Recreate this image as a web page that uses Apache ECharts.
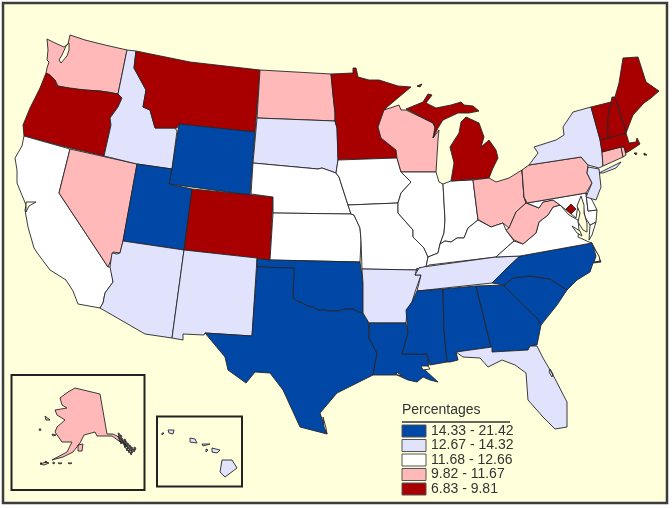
<!DOCTYPE html>
<html lang="en">
<head>
<meta charset="UTF-8">
<title>Percentages by state</title>
<script src="https://cdnjs.cloudflare.com/ajax/libs/echarts/6.0.0/echarts.min.js"></script>
<style>html,body{margin:0;background:#fff}#main{width:672px;height:508px}</style>
</head>
<body>
<div id="main"></div>
<script>
// legend bins, listed from the lowest class up
const binLabels = ['6.83 - 9.81', '9.82 - 11.67', '11.68 - 12.66', '12.67 - 14.32', '14.33 - 21.42'];
const binMins = [6.83, 9.82, 11.68, 12.67, 14.33];
const binMaxs = [9.81, 11.67, 12.66, 14.32, 21.42];
const binColors = ['#a80000', '#ffb9b9', '#ffffff', '#e1e3fc', '#0047a6'];

// state values, estimated from the class each state falls in
const darkRedStates = ['Oregon', 'Montana', 'Colorado', 'Minnesota', 'Michigan', 'Maine', 'Vermont', 'New Hampshire', 'Massachusetts', 'District of Columbia'];
const darkRedValues = [9.5, 9.3, 9.6, 9.2, 9.7, 9.0, 8.6, 9.1, 9.4, 6.83];
const pinkStates = ['Washington', 'Nevada', 'North Dakota', 'Wisconsin', 'Ohio', 'West Virginia', 'Pennsylvania', 'Connecticut', 'Rhode Island', 'Alaska'];
const pinkValues = [11.2, 11.5, 10.6, 10.9, 11.4, 11.6, 11.1, 10.4, 10.8, 9.9];
const whiteStates = ['California', 'Nebraska', 'Kansas', 'Iowa', 'Missouri', 'Illinois', 'Indiana', 'Kentucky', 'Virginia', 'Maryland', 'Delaware'];
const whiteValues = [12.1, 12.0, 12.3, 11.8, 12.4, 12.2, 12.5, 12.6, 11.9, 11.7, 12.2];
const lilacStates = ['Idaho', 'South Dakota', 'Arizona', 'New Mexico', 'Arkansas', 'Tennessee', 'Florida', 'New York', 'New Jersey', 'Hawaii'];
const lilacValues = [13.1, 12.9, 13.6, 14.1, 13.8, 14.2, 13.4, 13.0, 12.8, 13.3];
const blueStates = ['Wyoming', 'Utah', 'Texas', 'Oklahoma', 'Louisiana', 'Mississippi', 'Alabama', 'Georgia', 'South Carolina', 'North Carolina'];
const blueValues = [15.2, 17.8, 16.4, 15.6, 18.3, 21.42, 17.1, 15.9, 16.7, 14.8];

// outlines: rings of "x,y" in the picture's pixels
const stateShapes = {
  'Washington': ['47,39 55,43 64,47 68,44 70,35 85,40 105,45 127,50 118,94 108,92 100,91 85,90 72,89 58,86 55,80 50,75 46,73 47,68 49,62 47,60 48,50'],
  'Oregon': ['46,73 50,75 55,80 57,86 70,88 85,90 100,91 118,94 122,98 118,107 110,118 111,125 104,156 62,146 24,136 23,125 30,108 40,88'],
  'California': ['24,136 70,149 59,193 108,267 111,267 113,282 105,293 103,303 100,308 78,304 73,291 66,280 50,270 38,254 34,248 28,227 25,210 26,205 17,183 17,170 15,158 22,146'],
  'Nevada': ['70,149 137,164 123,241 120,253 113,252 111,260 108,267 59,193'],
  'Idaho': ['127,50 136,51 134,68 146,90 143,107 150,110 155,128 165,128 175,128 177,131 172,169 137,164 104,156 111,125 110,118 118,107 122,98 118,94'],
  'Montana': ['136,51 190,62 260,70 255,132 179,124 177,128 165,128 155,128 150,110 143,107 146,90 134,68'],
  'Wyoming': ['179,124 255,132 250,195 169,184 172,169'],
  'Utah': ['137,164 172,169 169,184 192,189 184,250 123,241'],
  'Colorado': ['192,189 273,197 270,260 184,250'],
  'Arizona': ['123,241 184,250 172,338 145,334 100,308 103,303 105,293 113,282 110,267 112,253 117,254 120,253'],
  'New Mexico': ['184,250 257,258 252,336 205,333 204,335 183,334 183,340 172,338'],
  'North Dakota': ['260,70 331,74 333,95 335,113 335,121 257,118'],
  'South Dakota': ['257,118 335,121 337,128 338,160 336,173 322,168 318,169 253,163'],
  'Nebraska': ['253,163 318,169 322,168 336,173 339,177 348,205 351,214 273,213 273,197 251,194'],
  'Kansas': ['273,213 351,214 354,215 360,228 361,240 360,262 270,260'],
  'Oklahoma': ['257,259 270,260 360,262 363,283 363,313 358,312 353,309 345,309 338,311 330,311 325,310 318,310 313,307 307,306 302,303 297,301 293,298 294,268 257,267'],
  'Texas': ['257,267 294,268 293,298 297,301 302,303 307,306 313,307 318,310 325,310 330,311 338,311 345,309 353,309 358,312 363,313 368,315 369,338 377,353 373,375 357,383 337,393 320,413 327,434 300,427 283,390 270,373 255,372 246,383 228,370 225,357 205,333 252,336'],
  'Minnesota': ['331,74 353,73 353,68 356,68 358,77 369,80 379,80 398,86 411,87 399,97 386,108 384,112 378,127 381,138 396,150 397,158 338,160 337,128 335,121 335,113 333,95'],
  'Iowa': ['338,160 397,158 401,172 411,182 401,193 398,203 348,205 339,177 336,173'],
  'Missouri': ['348,205 398,203 398,213 413,230 413,237 424,248 428,257 426,267 419,268 419,270 362,269 361,240 360,228 354,215 351,214'],
  'Arkansas': ['362,269 419,270 417,268 415,275 421,275 415,292 412,302 407,310 406,323 369,323 363,313 363,283'],
  'Louisiana': ['369,323 406,323 408,333 402,354 427,354 429,365 425,370 438,382 430,380 423,377 417,382 408,380 397,375 380,375 373,375 377,353 369,338'],
  'Wisconsin': ['384,110 399,105 401,110 406,110 433,123 436,130 433,138 439,130 438,140 436,172 401,172 397,158 396,150 381,138 378,127'],
  'Illinois': ['401,172 436,172 439,182 443,184 445,220 444,233 440,244 438,253 428,257 424,248 413,237 413,230 398,213 398,203 401,193 411,182'],
  'Indiana': ['443,184 451,181 473,180 478,220 473,224 468,228 466,233 464,238 457,238 451,242 445,241 440,244 444,233 445,220'],
  'Michigan': ['406,109 423,102 428,94 432,95 426,103 436,108 451,105 461,102 464,105 473,106 479,111 469,113 458,113 443,120 438,128 433,138 435,127 433,123', '466,117 479,123 484,137 481,147 489,140 496,150 498,158 493,168 489,178 451,181 454,163 450,147 459,133 461,122', '417,86 422,84 420,87'],
  'Ohio': ['473,180 489,178 496,182 509,178 522,170 524,197 526,203 516,212 509,228 503,223 491,227 479,220 478,220'],
  'Kentucky': ['428,257 438,253 440,244 445,241 451,242 457,238 464,238 466,233 468,228 473,224 478,220 479,220 491,227 503,223 506,230 514,241 506,248 496,257 429,265 426,267'],
  'Tennessee': ['423,267 496,257 520,256 507,268 492,283 417,291 421,275 415,275 419,268'],
  'Mississippi': ['417,291 443,289 444,330 447,362 430,365 427,354 402,354 408,333 406,310 412,302'],
  'Alabama': ['443,289 476,286 490,343 492,347 456,352 458,360 450,362 447,362 444,330'],
  'Georgia': ['476,286 504,285 508,290 537,318 541,325 537,345 530,346 528,350 492,352 490,343'],
  'Florida': ['456,352 492,347 492,352 528,350 530,346 537,346 543,358 553,375 567,402 567,427 555,429 543,417 528,400 526,373 515,365 502,360 488,367 480,358 463,357', '550,369 553,374 552,377 549,372'],
  'South Carolina': ['504,285 513,278 530,276 550,279 567,290 557,305 541,325 537,318 508,290'],
  'North Carolina': ['520,256 592,243 597,253 601,262 593,263 590,272 577,280 567,290 550,279 530,276 513,278 504,285 492,283 507,268'],
  'Virginia': ['496,257 506,248 514,241 523,244 536,233 539,222 548,215 553,207 560,205 569,215 578,220 579,230 578,237 589,242 592,243 520,256', '590,225 596,222 592,235 589,240'],
  'West Virginia': ['522,170 524,197 526,203 539,208 543,202 553,200 560,205 553,207 548,215 539,222 536,233 523,244 514,240 506,230 509,228 516,212 526,203'],
  'Maryland': ['527,203 586,193 588,211 597,210 596,222 590,225 585,217 583,205 578,205 576,218 571,214 560,205 553,200 543,202 539,208'],
  'Delaware': ['586,193 592,200 597,210 588,211'],
  'Pennsylvania': ['522,170 529,165 581,157 588,165 587,173 592,183 586,193 527,203 526,203 524,197'],
  'New York': ['529,165 538,153 534,147 556,140 564,135 563,127 573,112 591,107 600,139 602,151 603,166 599,168 588,165 581,157', '599,173 621,162 616,168 603,173'],
  'New Jersey': ['588,167 599,169 601,187 596,200 586,197 592,183 587,173'],
  'Connecticut': ['602,152 621,147 623,157 603,166'],
  'Rhode Island': ['621,147 624,147 626,155 623,157'],
  'Massachusetts': ['600,140 626,133 629,143 636,142 637,138 640,144 631,150 626,153 624,147 621,147 602,152', '634,153 637,153 636,155', '644,153 647,155 644,155'],
  'Vermont': ['591,107 611,102 608,118 608,138 600,140'],
  'New Hampshire': ['611,102 612,97 615,97 625,128 626,133 608,138 608,118'],
  'Maine': ['619,83 623,58 638,57 646,82 659,91 651,98 644,103 633,115 626,133 625,128 615,97'],
  'District of Columbia': ['571,204 576,209 571,214 566,209'],
  'Alaska': ['75,388 100,394 107,434 113,434 119,437 127,446 119,441 112,436 107,436 97,436 95,432 84,435 80,443 73,452 63,457 52,460 67,452 72,442 62,442 55,432 57,427 65,420 57,415 55,410 67,408 62,405 60,398 68,392',
    '118,433 120,434 119,436', '120,435 122,436 121,438', '118,436 120,437 119,439', '121,438 123,439 122,441', '119,439 121,440 120,442', '122,440 124,441 123,443', '120,441 122,442 121,444', '124,439 126,440 125,442', '123,442 125,443 124,445', '125,441 127,442 126,444', '125,444 127,445 126,447', '127,443 129,444 128,446', '124,445 126,446 125,448', '127,446 129,447 128,449', '129,445 131,446 130,448', '126,448 128,449 127,451', '129,448 131,449 130,451', '131,447 133,448 132,450', '128,450 130,451 129,453', '131,450 133,451 132,453', '133,449 135,450 134,452', '130,452 132,453 131,455', '134,447 136,448 135,450',
    '45,461 47,462 46,463', '53,462 55,463 53,464', '58,463 62,463 60,464', '68,463 72,463 70,464', '40,463 42,463 41,464',
    '45,416 50,420 46,420', '39,429 41,429 40,431', '52,434 56,435 53,436', '78,445 83,444 82,451 78,451', '40,464 46,462 49,463 44,465'],
  'Hawaii': ['222,460 232,460 237,468 225,477 220,472', '212,448 220,450 217,453 212,452', '202,444 210,444 209,445 203,446', '206,449 208,450 206,452', '190,438 195,439 197,443 190,442', '168,430 174,430 173,434 169,433', '162,433 164,433 162,435']
};

// water that cuts into the land, left unfilled
const waterShapes = {
  'Chesapeake Bay': ['581,196 584,205 584,213 587,223 587,232 583,230 578,222 580,213 577,206'],
  'James River': ['572,226 580,231 582,236 577,233'],
  'Pamlico Sound': ['593,247 599,256 600,261 594,262 596,256'],
  'San Francisco Bay': ['26,202 36,202 29,206 26,212'],
  'Puget Sound': ['66,46 69,43 69,50 67,56 61,63 59,60 62,55'],
  'Pontchartrain': ['421,366 428,366 430,369 423,370'],
  'Vermilion Bay': ['396,372 402,375 397,375'],
  'Laguna Madre': ['323,417 326,428 327,434 324,427']
};

function toFeature(name, rings) {
  return {
    type: 'Feature',
    properties: { name: name },
    geometry: {
      type: 'MultiPolygon',
      coordinates: rings.map(ring => [ring.split(' ').map(p => {
        const xy = p.split(',');
        return [+xy[0], -xy[1]];
      })])
    }
  };
}

const features = [];
Object.keys(stateShapes).forEach(k => features.push(toFeature(k, stateShapes[k])));
Object.keys(waterShapes).forEach(k => features.push(toFeature(k, waterShapes[k])));
echarts.registerMap('usa', { type: 'FeatureCollection', features: features });

function rows(names, values) {
  return names.map((n, i) => ({ name: n, value: values[i] }));
}
const mapData = [].concat(
  rows(darkRedStates, darkRedValues), rows(pinkStates, pinkValues), rows(whiteStates, whiteValues),
  rows(lilacStates, lilacValues), rows(blueStates, blueValues)
);

const paper = '#ffffdc';
const ink = '#26262a';
const swatches = binLabels.map((b, i) => ({
  type: 'rect', z: 20, silent: true,
  shape: { x: 402, y: 425 + i * 14.5, width: 24, height: 12 },
  style: { fill: 'none', stroke: '#555', lineWidth: 1 }
}));

const myChart = echarts.init(document.getElementById('main'));
myChart.setOption({
  animation: false,
  backgroundColor: '#fff',
  title: {
    text: 'Percentages', left: 402, top: 403, padding: 0,
    textStyle: { fontFamily: 'Liberation Sans', fontSize: 14, fontWeight: 'normal', color: '#333' }
  },
  visualMap: {
    type: 'piecewise', left: 402, top: 424, padding: 0, align: 'left',
    itemWidth: 24, itemHeight: 12, itemGap: 0.5, itemSymbol: 'rect', textGap: 5,
    selectedMode: false, hoverLink: false, seriesIndex: 0,
    textStyle: { fontFamily: 'Liberation Sans', fontSize: 14, color: '#333' },
    pieces: binLabels.map((b, i) => ({ min: binMins[i], max: binMaxs[i], label: b, color: binColors[i] }))
  },
  graphic: [
    { type: 'rect', z: -5, silent: true, shape: { x: 3, y: 3, width: 664, height: 500 }, style: { fill: paper, stroke: '#3c3c3c', lineWidth: 2.5 } },
    { type: 'rect', z: 1, silent: true, shape: { x: 11.5, y: 375, width: 133, height: 115 }, style: { fill: 'none', stroke: '#222', lineWidth: 2 } },
    { type: 'rect', z: 1, silent: true, shape: { x: 157, y: 416.5, width: 85, height: 70 }, style: { fill: 'none', stroke: '#222', lineWidth: 2 } },
    { type: 'line', z: 20, silent: true, shape: { x1: 402, y1: 422, x2: 510, y2: 422 }, style: { stroke: '#333', lineWidth: 1.5 } }
  ].concat(swatches),
  series: [{
    type: 'map', map: 'usa', roam: false, silent: true,
    left: 0, top: 0, width: 672, height: 508, aspectScale: 1,
    boundingCoords: [[0, 0], [672, -508]],
    label: { show: false },
    itemStyle: { areaColor: paper, borderColor: ink, borderWidth: 0.9 },
    emphasis: { disabled: true },
    data: mapData
  }]
});
</script>
</body>
</html>
